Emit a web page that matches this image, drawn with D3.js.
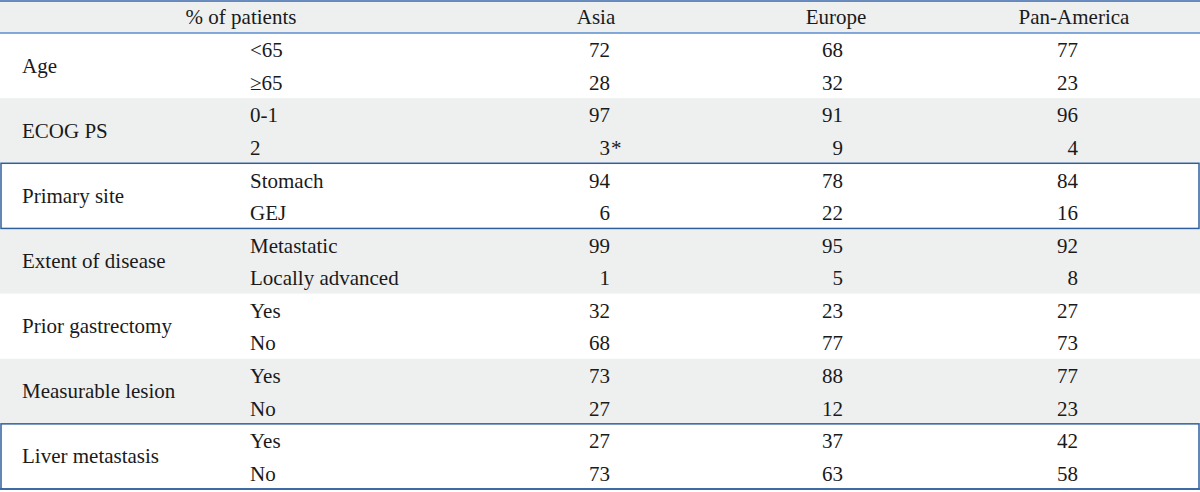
<!DOCTYPE html>
<html>
<head>
<meta charset="utf-8">
<script src="https://cdn.jsdelivr.net/npm/d3@7"></script>
<style>
  body { margin: 0; background: #fff; }
  svg text { font-family: "Liberation Serif", "Times New Roman", Times, serif; font-size: 21px; fill: #1a1a1a; }
</style>
</head>
<body>
<div id="table"></div>
<script>
let width = 1200;
let height = 492;

let headers = ["% of patients", "Asia", "Europe", "Pan-America"];
let groups = ["Age", "ECOG PS", "Primary site", "Extent of disease", "Prior gastrectomy", "Measurable lesion", "Liver metastasis"];
let subLabels = [["<65", "≥65"], ["0-1", "2"], ["Stomach", "GEJ"], ["Metastatic", "Locally advanced"], ["Yes", "No"], ["Yes", "No"], ["Yes", "No"]];
let asia = [72, 28, 97, 3, 94, 6, 99, 1, 32, 68, 73, 27, 27, 73];
let europe = [68, 32, 91, 9, 78, 22, 95, 5, 23, 77, 88, 12, 37, 63];
let panAmerica = [77, 23, 96, 4, 84, 16, 92, 8, 27, 73, 77, 23, 42, 58];
let footnotes = { "Asia-3": "*" };

let shaded = [1, 3, 5];
let boxed = [2, 6];

let svg = d3.select("#table").append("svg")
  .attr("width", width)
  .attr("height", height)
  .attr("font-family", "Liberation Serif, serif");

let headTop = 1, headBottom = 33;
let y = d3.scaleLinear().domain([0, 14]).range([headBottom, 489]);

let regions = ["Asia", "Europe", "Pan-America"];
let series = { "Asia": asia, "Europe": europe, "Pan-America": panAmerica };
let colCenter = d3.scaleOrdinal().domain(regions).range([596, 836, 1074]);
let colRight = d3.scaleOrdinal().domain(regions).range([610, 843, 1078]);

// header background
svg.append("rect").attr("x", 0).attr("y", headTop).attr("width", width).attr("height", headBottom - headTop).attr("fill", "#eef0f0");

// shaded groups
svg.selectAll(".band").data(shaded).enter().append("rect")
  .attr("x", 0).attr("width", width)
  .attr("y", (g) => y(g * 2))
  .attr("height", (g) => y(g * 2 + 2) - y(g * 2))
  .attr("fill", "#eef0f0");

// rules
svg.append("line").attr("x1", 0).attr("x2", width).attr("y1", headTop).attr("y2", headTop).attr("stroke", "#3a66a8").attr("stroke-width", 1.5);
svg.append("line").attr("x1", 0).attr("x2", width).attr("y1", headBottom).attr("y2", headBottom).attr("stroke", "#5b8ed0").attr("stroke-width", 1.5);
svg.append("line").attr("x1", 0).attr("x2", width).attr("y1", y(14)).attr("y2", y(14)).attr("stroke", "#3a66a8").attr("stroke-width", 1.5);

// boxed groups
svg.selectAll(".box").data(boxed).enter().append("rect")
  .attr("x", 1).attr("width", width - 2)
  .attr("y", (g) => y(g * 2))
  .attr("height", (g) => y(g * 2 + 2) - y(g * 2))
  .attr("fill", "none")
  .attr("stroke", "#2f5f9e")
  .attr("stroke-width", 1.5);

// header text
let headMid = (headTop + headBottom) / 2 + 7;
svg.append("text").attr("x", 241).attr("y", headMid).attr("text-anchor", "middle").text(headers[0]);
svg.selectAll(".colhead").data(regions).enter().append("text")
  .attr("x", (d) => colCenter(d)).attr("y", headMid)
  .attr("text-anchor", "middle").text((d) => d);

// group labels
svg.selectAll(".group").data(groups).enter().append("text")
  .attr("x", 22)
  .attr("y", (d, i) => y(i * 2 + 1) + 7)
  .text((d) => d);

// sub labels
let rows = [];
subLabels.forEach((pair, g) => pair.forEach((s, k) => rows.push({ label: s, i: g * 2 + k })));
svg.selectAll(".sub").data(rows).enter().append("text")
  .attr("x", 250)
  .attr("y", (d) => y(d.i + 0.5) + 8)
  .text((d) => d.label);

// values
regions.forEach((r) => {
  svg.selectAll(".v-" + r).data(series[r]).enter().append("text")
    .attr("x", colRight(r))
    .attr("y", (d, i) => y(i + 0.5) + 8)
    .attr("text-anchor", "end")
    .text((d) => d);
  series[r].forEach((d, i) => {
    let mark = footnotes[r + "-" + i];
    if (mark) {
      svg.append("text").attr("x", colRight(r) + 1).attr("y", y(i + 0.5) + 8).text(mark);
    }
  });
});
</script>
</body>
</html>
